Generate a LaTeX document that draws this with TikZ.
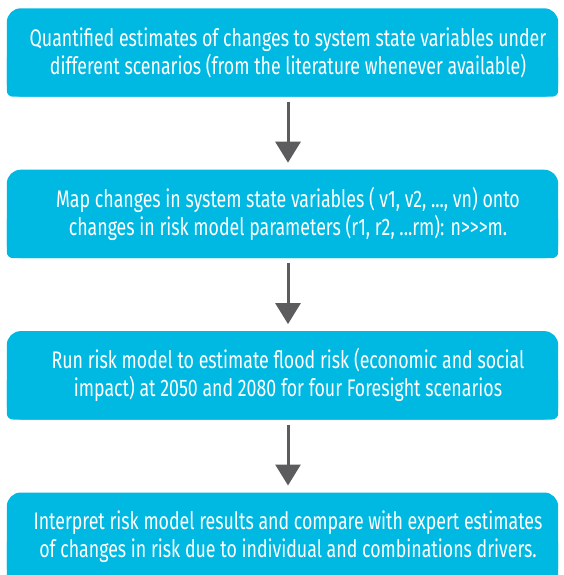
\documentclass[tikz,border=0pt]{standalone}
\usepackage{fontspec}
\setmainfont{Fira Sans}[FakeStretch=0.74]
\usepackage{tikz}
\usetikzlibrary{
  arrows.meta,
  positioning,
  backgrounds
}
\definecolor{fsCyan}{HTML}{00B9E3}
\definecolor{fsArrow}{HTML}{5C5C5E}
\tikzset{
  stagebox/.style={
    minimum width=551pt, minimum height=88pt, inner sep=0pt,
    font=\fontsize{24}{28}\selectfont, align=center, text=white
  },
  stageflow/.style={-{Triangle[length=21pt, width=25pt]}, line width=3pt, fsArrow,
    shorten <=5pt, shorten >=7pt}
}

\begin{document}
\begin{tikzpicture}[x=1pt, y=1pt, node distance=73pt]
  \useasboundingbox (0,0) rectangle (564,-575);
  \node[stagebox] (s1) at (288,-52.5) {Quantified estimates of changes to system state variables under\\different scenarios (from the literature whenever available)};
  \node[stagebox, below=of s1] (s2) {Map changes in system state variables ( v1, v2, ..., vn) onto\\changes in risk model parameters (r1, r2, ...rm): n{>}{>}{>}m.};
  \node[stagebox, below=of s2] (s3) {Run risk model to estimate flood risk (economic and social\\impact) at 2050 and 2080 for four Foresight scenarios};
  \node[stagebox, below=of s3] (s4) {Interpret risk model results and compare with expert estimates\\of changes in risk due to individual and combinations drivers.};
  % box fills: large top corners, small bottom corners, set a bit left of the text
  \begin{scope}[on background layer]
    \foreach \s in {s1, s2, s3, s4}{
      \fill[fsCyan, rounded corners=14pt] ([xshift=-5.5pt]\s.south west) rectangle ([xshift=-5.5pt]\s.north east);
      \fill[fsCyan, rounded corners=6pt] ([xshift=-5.5pt]\s.south west) rectangle ([xshift=-5.5pt]\s.east);
    }
  \end{scope}
  \foreach \s/\e in {s1/s2, s2/s3, s3/s4}{\draw[stageflow] (\s) -- (\e);}
\end{tikzpicture}
\end{document}
